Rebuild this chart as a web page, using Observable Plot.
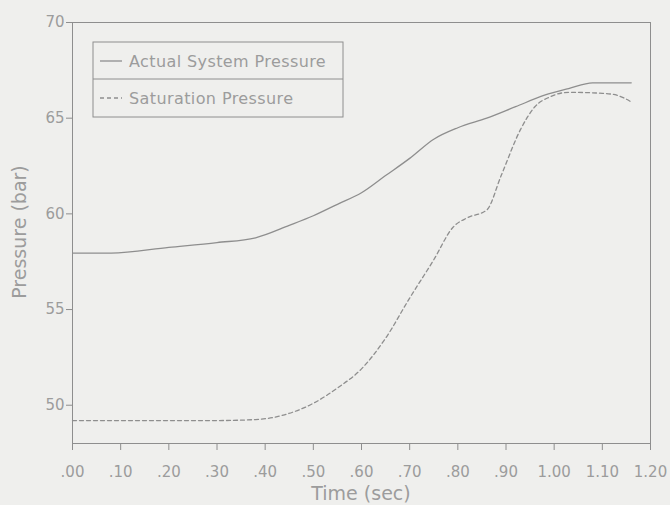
<!DOCTYPE html>
<html>
<head>
<meta charset="utf-8">
<script src="https://cdn.jsdelivr.net/npm/d3@7"></script>
<script src="https://cdn.jsdelivr.net/npm/@observablehq/plot@0.6"></script>
<style>
  html, body { margin: 0; padding: 0; background: #efefed; }
  #chart { width: 670px; height: 505px; }
  svg { display: block; }
</style>
</head>
<body>
<div id="chart"></div>
<script>
// Time (s) and pressure (bar) for the system pressure trace
const actualTime = [0, 0.08, 0.20, 0.30, 0.38, 0.45, 0.50, 0.55, 0.60, 0.65, 0.70, 0.75, 0.80, 0.86, 0.92, 0.98, 1.03, 1.08, 1.16];
const actualPressure = [57.95, 57.95, 58.25, 58.5, 58.75, 59.4, 59.9, 60.5, 61.1, 62.0, 62.9, 63.9, 64.5, 65.0, 65.6, 66.2, 66.55, 66.85, 66.85];

// Time (s) and saturation pressure (bar)
const satTime = [0, 0.10, 0.20, 0.30, 0.38, 0.44, 0.50, 0.55, 0.60, 0.65, 0.70, 0.75, 0.79, 0.82, 0.86, 0.89, 0.93, 0.96, 0.99, 1.03, 1.10, 1.13, 1.16];
const satPressure = [49.2, 49.2, 49.2, 49.2, 49.25, 49.5, 50.1, 50.9, 51.9, 53.5, 55.6, 57.6, 59.3, 59.8, 60.2, 62.0, 64.4, 65.6, 66.1, 66.35, 66.3, 66.2, 65.85];

const xTicks = [0, 0.1, 0.2, 0.3, 0.4, 0.5, 0.6, 0.7, 0.8, 0.9, 1.0, 1.1, 1.2];
const yTicks = [50, 55, 60, 65, 70];
const seriesNames = ["Actual System Pressure", "Saturation Pressure"];

const actual = actualTime.map((t, i) => ({t, p: actualPressure[i]}));
const saturation = satTime.map((t, i) => ({t, p: satPressure[i]}));

const ink = "#8e8e8e";
const textInk = "#9c9c9c";
const font = "DejaVu Sans, sans-serif";

const fmtTime = d => d < 1 ? d.toFixed(2).slice(1) : d.toFixed(2);

const chart = Plot.plot({
  width: 670,
  height: 505,
  marginLeft: 72,
  marginRight: 20,
  marginTop: 22,
  marginBottom: 62,
  style: {background: "transparent", color: textInk, fontFamily: font, fontSize: "14px"},
  x: {domain: [0, 1.2], ticks: xTicks, tickFormat: fmtTime, label: null},
  y: {domain: [48, 70], ticks: yTicks, label: null},
  marks: [
    Plot.frame({stroke: ink, strokeWidth: 1}),
    Plot.axisX({ticks: xTicks, tickFormat: fmtTime, tickSize: 7, tickPadding: 16, stroke: ink, fill: textInk, fontSize: 15}),
    Plot.axisY({ticks: yTicks, tickSize: 6, tickPadding: 2, stroke: ink, fill: textInk, fontSize: 15}),
    Plot.line(actual, {x: "t", y: "p", stroke: ink, strokeWidth: 1.3, curve: "monotone-x"}),
    Plot.line(saturation, {x: "t", y: "p", stroke: ink, strokeWidth: 1.3, strokeDasharray: "4,3", curve: "monotone-x"})
  ]
});

document.getElementById("chart").appendChild(chart);

// Axis titles and the boxed legend drawn on the same SVG
const svg = d3.select(chart);

svg.append("text")
  .attr("x", 361).attr("y", 500)
  .attr("text-anchor", "middle")
  .attr("fill", textInk)
  .style("font", `19px ${font}`)
  .text("Time (sec)");

svg.append("text")
  .attr("transform", "translate(26,232) rotate(-90)")
  .attr("text-anchor", "middle")
  .attr("fill", textInk)
  .style("font", `19px ${font}`)
  .text("Pressure (bar)");

const legend = svg.append("g").attr("transform", "translate(93,42)");
legend.append("rect")
  .attr("width", 250).attr("height", 75)
  .attr("fill", "none").attr("stroke", ink).attr("stroke-width", 1);
legend.append("line")
  .attr("x1", 0).attr("x2", 250).attr("y1", 37).attr("y2", 37)
  .attr("stroke", ink).attr("stroke-width", 1);

seriesNames.forEach((name, i) => {
  const cy = 19 + i * 37;
  legend.append("line")
    .attr("x1", 7).attr("x2", 29).attr("y1", cy).attr("y2", cy)
    .attr("stroke", ink).attr("stroke-width", 1.3)
    .attr("stroke-dasharray", i === 1 ? "4,3" : null);
  legend.append("text")
    .attr("x", 36).attr("y", cy).attr("dy", "0.35em")
    .attr("text-anchor", "start")
    .attr("fill", textInk)
    .style("font", `16px ${font}`)
    .style("letter-spacing", "0.4px")
    .text(name);
});
</script>
</body>
</html>
